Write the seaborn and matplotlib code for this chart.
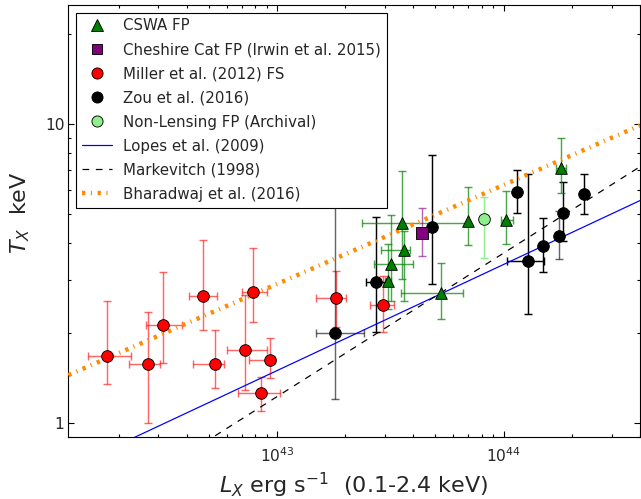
import numpy as np
import matplotlib
matplotlib.use("Agg")
import matplotlib.pyplot as plt
import seaborn as sns
from matplotlib.lines import Line2D
from matplotlib.ticker import FuncFormatter, NullFormatter

# ---- CSWA fossil-group candidates: L_X [erg/s] and T_X [keV] with error bounds
cswa_L = [3.08e43, 3.17e43, 3.65e43, 3.57e43, 5.30e43, 6.94e43, 1.023e44, 1.79e44]
cswa_L_lo = [3.00e43, 2.69e43, 2.89e43, 2.37e43, 3.53e43, 6.94e43, 9.74e43, 1.71e44]
cswa_L_hi = [3.19e43, 4.00e43, 3.88e43, 6.92e43, 6.65e43, 6.94e43, 1.096e44, 1.88e44]
cswa_T = [2.98, 3.41, 3.78, 4.65, 2.72, 4.73, 4.77, 7.11]
cswa_T_lo = [2.40, 2.56, 2.56, 3.02, 2.23, 3.93, 3.96, 5.87]
cswa_T_hi = [3.96, 4.97, 4.38, 6.98, 3.44, 6.14, 5.98, 8.96]

# ---- Cheshire Cat fossil group (Irwin et al. 2015)
cat_L = [4.36e43]
cat_T = [4.31]
cat_T_lo = [3.62]
cat_T_hi = [5.23]

# ---- Miller et al. (2012) fossil systems
miller_L = [1.78e42, 2.71e42, 3.15e42, 4.74e42, 5.35e42, 7.23e42,
            7.87e42, 9.29e42, 8.48e42, 1.83e43, 2.93e43]
miller_L_lo = [1.46e42, 2.22e42, 2.65e42, 4.10e42, 4.27e42, 5.99e42,
               7.04e42, 7.53e42, 6.73e42, 1.48e43, 2.58e43]
miller_L_hi = [2.26e42, 3.04e42, 3.80e42, 5.44e42, 5.82e42, 9.04e42,
               9.04e42, 9.77e42, 1.031e43, 2.02e43, 3.28e43]
miller_T = [1.68, 1.58, 2.13, 2.65, 1.57, 1.75, 2.75, 1.62, 1.26, 2.61, 2.49]
miller_T_lo = [1.35, 1.00, 1.59, 2.04, 1.31, 1.29, 2.18, 1.415, 1.094, 2.09, 2.01]
miller_T_hi = [2.55, 2.36, 3.20, 4.08, 2.04, 2.67, 3.84, 1.92, 1.43, 3.23, 3.10]

# ---- Zou et al. (2016)
zou_L = [1.81e43, 2.74e43, 4.84e43, 1.146e44, 1.276e44, 1.496e44, 1.76e44, 1.838e44, 2.267e44]
zou_L_lo = [1.48e43, 2.48e43, 4.84e43, 1.146e44, 1.031e44, 1.496e44, 1.76e44, 1.838e44, 2.267e44]
zou_L_hi = [2.41e43, 3.04e43, 4.84e43, 1.146e44, 1.511e44, 1.496e44, 1.76e44, 1.838e44, 2.267e44]
zou_T = [2.00, 2.97, 4.53, 5.93, 3.47, 3.91, 4.22, 5.02, 5.83]
zou_T_lo = [1.20, 2.01, 2.91, 5.03, 2.32, 3.20, 3.53, 4.06, 4.99]
zou_T_hi = [5.50, 4.90, 7.89, 7.01, 6.80, 4.84, 5.11, 6.38, 6.83]

# ---- Non-lensing fossil group (archival)
arch_L = [8.18e43]
arch_T = [4.81]
arch_T_lo = [3.55]
arch_T_hi = [5.68]

# ---- Published L_X-T_X scaling relations: T = norm * (L / 1e44)^slope
lopes_norm, lopes_slope = 3.39, 0.355
markevitch_norm, markevitch_slope = 3.70, 0.48
bharadwaj_norm, bharadwaj_slope = 6.25, 0.331

x_limits = (1.2e42, 4.0e44)
y_limits = (0.9, 25.0)

sns.set_style("ticks", {"xtick.direction": "in", "ytick.direction": "in",
                        "axes.edgecolor": "black"})
plt.rcParams["font.family"] = ["DejaVu Sans"]
plt.rcParams["mathtext.fontset"] = "dejavusans"
plt.rcParams["lines.scale_dashes"] = False

DPI = 80
fig = plt.figure(figsize=(641 / DPI, 499 / DPI), dpi=DPI)
ax = fig.add_axes([68.3 / 641, 1 - 436.7 / 499, (640 - 68.3) / 641, (436.7 - 5) / 499])
ax.set_xscale("log")
ax.set_yscale("log")


def bars(L, T, T_lo, T_hi, color, L_lo=None, L_hi=None, alpha=1.0):
    L = np.asarray(L); T = np.asarray(T)
    yerr = [T - np.asarray(T_lo), np.asarray(T_hi) - T]
    xerr = None
    if L_lo is not None:
        xerr = [L - np.asarray(L_lo), np.asarray(L_hi) - L]
    ax.errorbar(L, T, xerr=xerr, yerr=yerr, fmt="none", ecolor=color,
                elinewidth=1.3, capsize=4, capthick=1.3, alpha=alpha, zorder=2)


dash_dot = (0, (3, 5, 1, 5))
dashed = (0, (6, 6))

# relation lines
L_grid = np.logspace(np.log10(x_limits[0]), np.log10(x_limits[1]), 60)
sns.lineplot(x=L_grid, y=lopes_norm * (L_grid / 1e44) ** lopes_slope, ax=ax,
             color="#0000ff", linewidth=1.1, zorder=3)
sns.lineplot(x=L_grid, y=markevitch_norm * (L_grid / 1e44) ** markevitch_slope, ax=ax,
             color="black", linewidth=1.1, linestyle=dashed, zorder=3)
sns.lineplot(x=L_grid, y=bharadwaj_norm * (L_grid / 1e44) ** bharadwaj_slope, ax=ax,
             color="darkorange", linewidth=4, linestyle=dash_dot, zorder=3)

# error bars
bars(miller_L, miller_T, miller_T_lo, miller_T_hi, "red", miller_L_lo, miller_L_hi, alpha=0.6)
zou_dim = np.array([True, False, False, False, False, False, True, False, False])
zL, zT = np.array(zou_L), np.array(zou_T)
zlo, zhi = np.array(zou_T_lo), np.array(zou_T_hi)
zLlo, zLhi = np.array(zou_L_lo), np.array(zou_L_hi)
bars(zL[~zou_dim], zT[~zou_dim], zlo[~zou_dim], zhi[~zou_dim], "black",
     zLlo[~zou_dim], zLhi[~zou_dim])
bars(zL[zou_dim], zT[zou_dim], zlo[zou_dim], zhi[zou_dim], "black",
     zLlo[zou_dim], zLhi[zou_dim], alpha=0.6)
bars(cswa_L, cswa_T, cswa_T_lo, cswa_T_hi, "green", cswa_L_lo, cswa_L_hi, alpha=0.7)
bars(cat_L, cat_T, cat_T_lo, cat_T_hi, "purple", alpha=0.6)
bars(arch_L, arch_T, arch_T_lo, arch_T_hi, "lightgreen")

# markers
mk = dict(ax=ax, s=110, edgecolor="black", linewidth=0.8, zorder=4, legend=False)
sns.scatterplot(x=miller_L, y=miller_T, marker="o", color="red", **mk)
sns.scatterplot(x=zou_L, y=zou_T, marker="o", color="black", **mk)
sns.scatterplot(x=cswa_L, y=cswa_T, marker="^", color="green", **mk)
sns.scatterplot(x=cat_L, y=cat_T, marker="s", color="purple", **mk)
sns.scatterplot(x=arch_L, y=arch_T, marker="o", color="lightgreen", **mk)

ax.set_xlim(*x_limits)
ax.set_ylim(*y_limits)

ax.yaxis.set_major_formatter(FuncFormatter(lambda v, p: f"{v:g}"))
ax.yaxis.set_minor_formatter(NullFormatter())
ax.xaxis.set_minor_formatter(NullFormatter())
ax.tick_params(which="both", direction="in", top=True, right=True, labelsize=14,
               color="black")
ax.tick_params(which="major", length=5, width=1)
ax.tick_params(which="minor", length=2.5, width=1)
ax.tick_params(axis="x", which="major", pad=9)
for sp in ax.spines.values():
    sp.set_color("black")
    sp.set_linewidth(1.0)

ax.set_xlabel(r"$L_X$ erg s$^{-1}$  (0.1-2.4 keV)", fontsize=20, labelpad=5)
ax.set_ylabel(r"$T_X$  keV", fontsize=20)
ax.yaxis.set_label_coords(-0.063, 0.52)

handles = [
    Line2D([], [], marker="^", color="green", linestyle="none", markersize=10,
           markeredgecolor="black", markeredgewidth=0.8),
    Line2D([], [], marker="s", color="purple", linestyle="none", markersize=9.5,
           markeredgecolor="black", markeredgewidth=0.8),
    Line2D([], [], marker="o", color="red", linestyle="none", markersize=10,
           markeredgecolor="black", markeredgewidth=0.8),
    Line2D([], [], marker="o", color="black", linestyle="none", markersize=10,
           markeredgecolor="black", markeredgewidth=0.8),
    Line2D([], [], marker="o", color="lightgreen", linestyle="none", markersize=10,
           markeredgecolor="black", markeredgewidth=0.8),
    Line2D([], [], color="#0000ff", linewidth=1.1),
    Line2D([], [], color="black", linewidth=1.1, linestyle=dashed),
    Line2D([], [], color="darkorange", linewidth=4, linestyle=dash_dot),
]
labels = ["CSWA FP", "Cheshire Cat FP (Irwin et al. 2015)", "Miller et al. (2012) FS",
          "Zou et al. (2016)", "Non-Lensing FP (Archival)", "Lopes et al. (2009)",
          "Markevitch (1998)", "Bharadwaj et al. (2016)"]
leg = ax.legend(handles, labels, loc="upper left", fontsize=13.5, numpoints=1,
                frameon=True, fancybox=False, framealpha=1, edgecolor="black",
                borderaxespad=0.5, handlelength=2.0, handletextpad=0.75,
                labelspacing=0.6, borderpad=0.4)
leg.get_frame().set_linewidth(1.0)
leg.set_zorder(10)

fig.savefig("out.png", dpi=DPI)
